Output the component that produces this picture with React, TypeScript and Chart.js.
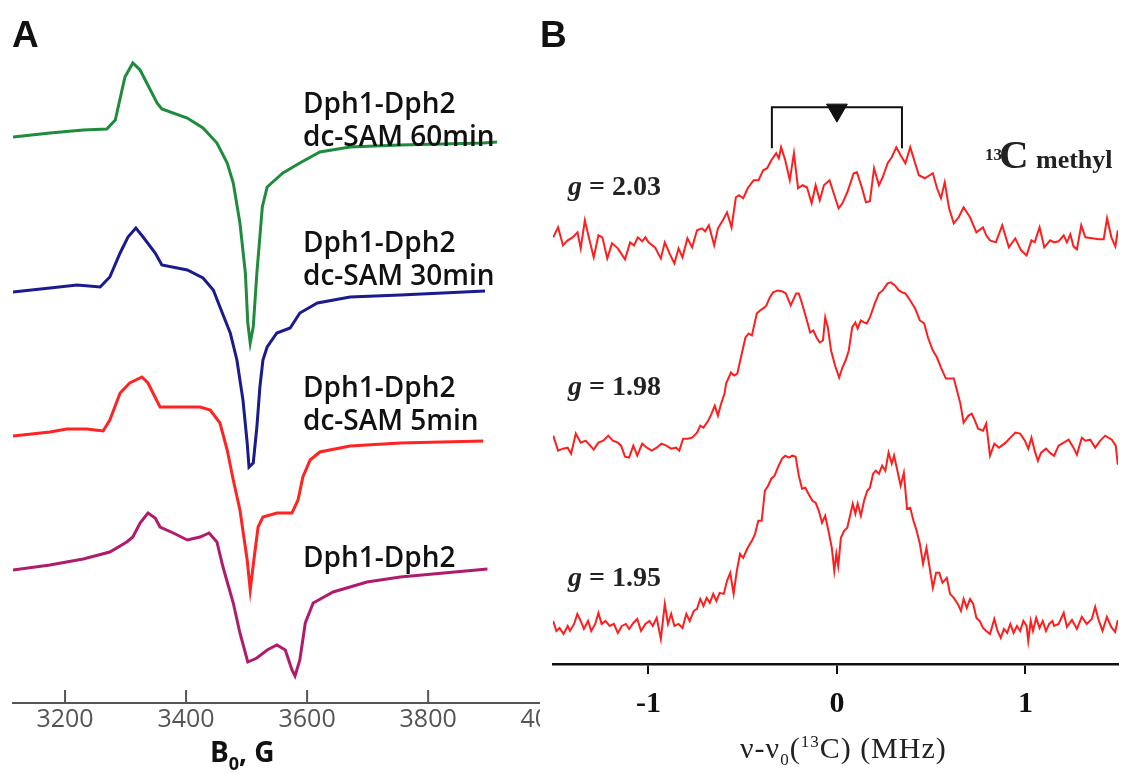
import React, { useEffect, useRef } from "react";
import { Chart, registerables } from "chart.js";

Chart.register(...registerables);

// ---------- Panel A : CW EPR spectra (field in G, signal offset per trace) ----------
const fieldTicks = [3200, 3400, 3600, 3800, 4000];

const sam60Field = [3114, 3175, 3230, 3269, 3283, 3299, 3312, 3324, 3352, 3360, 3402, 3428, 3451, 3468, 3478, 3489, 3498, 3502, 3506, 3511, 3517, 3526, 3534, 3560, 3588, 3621, 3671, 3754, 3891, 3914];
const sam60Signal = [566, 570, 573, 574, 583, 626, 640, 633, 600, 594, 585, 575, 560, 540, 520, 480, 430, 380, 360, 376, 430, 496, 516, 530, 540, 551, 556, 558, 560, 561];

const sam30Field = [3114, 3175, 3220, 3258, 3274, 3291, 3304, 3317, 3329, 3349, 3360, 3402, 3428, 3445, 3456, 3473, 3484, 3494, 3501, 3504, 3511, 3517, 3522, 3527, 3534, 3550, 3572, 3588, 3617, 3671, 3754, 3894];
const sam30Signal = [411, 415, 418, 416, 426, 450, 466, 475, 466, 450, 438, 433, 425, 413, 396, 370, 343, 303, 260, 236, 240, 276, 316, 343, 356, 370, 375, 390, 400, 406, 408, 412];

const sam5Field = [3114, 3175, 3203, 3236, 3263, 3274, 3291, 3307, 3327, 3337, 3357, 3379, 3423, 3440, 3456, 3468, 3478, 3489, 3501, 3506, 3512, 3519, 3527, 3550, 3575, 3585, 3593, 3605, 3621, 3671, 3754, 3891];
const sam5Signal = [267, 271, 274, 274, 272, 283, 310, 320, 326, 320, 296, 296, 296, 293, 280, 253, 223, 193, 143, 113, 143, 176, 186, 190, 190, 203, 226, 243, 251, 257, 260, 262];

const apoField = [3114, 3175, 3230, 3274, 3302, 3312, 3324, 3337, 3349, 3357, 3379, 3402, 3423, 3438, 3451, 3461, 3478, 3489, 3502, 3517, 3534, 3550, 3564, 3575, 3580, 3588, 3597, 3610, 3643, 3699, 3754, 3898];
const apoSignal = [133, 138, 144, 151, 161, 166, 180, 190, 185, 176, 170, 163, 166, 170, 161, 136, 100, 70, 41, 45, 53, 58, 53, 33, 27, 43, 80, 100, 111, 121, 126, 134];

// ---------- Panel B : ENDOR spectra (frequency offset in MHz) ----------
const freqTicks = [-1, 0, 1];

const g203Freq = [-1.505, -1.479, -1.453, -1.428, -1.402, -1.376, -1.359, -1.337, -1.316, -1.29, -1.265, -1.244, -1.218, -1.193, -1.162, -1.124, -1.097, -1.076, -1.056, -1.033, -1.016, -0.999, -0.965, -0.934, -0.913, -0.888, -0.862, -0.84, -0.819, -0.793, -0.768, -0.742, -0.716, -0.699, -0.679, -0.651, -0.631, -0.605, -0.583, -0.559, -0.536, -0.519, -0.497, -0.473, -0.442, -0.416, -0.391, -0.37, -0.348, -0.322, -0.308, -0.296, -0.274, -0.25, -0.228, -0.206, -0.182, -0.159, -0.134, -0.113, -0.091, -0.069, -0.039, -0.017, 0.009, 0.029, 0.055, 0.089, 0.106, 0.132, 0.154, 0.175, 0.197, 0.223, 0.243, 0.269, 0.291, 0.315, 0.338, 0.363, 0.389, 0.415, 0.435, 0.466, 0.509, 0.531, 0.552, 0.572, 0.595, 0.62, 0.646, 0.672, 0.706, 0.74, 0.775, 0.792, 0.812, 0.843, 0.877, 0.912, 0.946, 0.977, 1.006, 1.032, 1.049, 1.075, 1.1, 1.131, 1.152, 1.176, 1.203, 1.22, 1.238, 1.255, 1.273, 1.296, 1.318, 1.353, 1.388, 1.415, 1.433, 1.456, 1.477, 1.49];
const g203Amp = [426, 436, 418, 423, 426, 431, 415, 443, 426, 406, 428, 426, 405, 420, 415, 404, 421, 418, 426, 422, 426, 421, 416, 405, 421, 410, 400, 415, 406, 425, 416, 433, 435, 432, 438, 418, 435, 443, 451, 436, 466, 468, 465, 475, 483, 483, 493, 495, 503, 510, 505, 516, 503, 483, 510, 475, 478, 476, 460, 478, 463, 478, 483, 470, 455, 460, 471, 490, 491, 476, 461, 462, 495, 478, 486, 500, 506, 516, 508, 500, 516, 500, 488, 485, 490, 475, 465, 481, 455, 440, 446, 456, 446, 431, 436, 428, 423, 421, 438, 416, 425, 413, 408, 423, 421, 436, 416, 423, 421, 422, 428, 421, 429, 417, 414, 438, 426, 425, 424, 424, 445, 426, 417, 433];

const g198Freq = [-1.505, -1.479, -1.453, -1.428, -1.41, -1.385, -1.359, -1.333, -1.308, -1.29, -1.265, -1.239, -1.213, -1.188, -1.162, -1.145, -1.124, -1.102, -1.08, -1.059, -1.033, -1.008, -0.982, -0.956, -0.931, -0.905, -0.879, -0.853, -0.836, -0.816, -0.793, -0.768, -0.742, -0.725, -0.708, -0.682, -0.665, -0.648, -0.631, -0.614, -0.596, -0.588, -0.562, -0.545, -0.528, -0.507, -0.485, -0.468, -0.451, -0.425, -0.408, -0.391, -0.374, -0.356, -0.339, -0.314, -0.288, -0.271, -0.245, -0.233, -0.216, -0.202, -0.185, -0.159, -0.142, -0.125, -0.108, -0.091, -0.074, -0.062, -0.048, -0.031, -0.01, 0.012, 0.029, 0.046, 0.063, 0.081, 0.098, 0.11, 0.127, 0.144, 0.158, 0.175, 0.201, 0.223, 0.243, 0.269, 0.286, 0.308, 0.329, 0.346, 0.363, 0.389, 0.415, 0.44, 0.463, 0.483, 0.509, 0.531, 0.552, 0.578, 0.603, 0.62, 0.641, 0.655, 0.672, 0.698, 0.715, 0.732, 0.749, 0.775, 0.792, 0.812, 0.835, 0.86, 0.895, 0.92, 0.946, 0.972, 0.997, 1.015, 1.032, 1.049, 1.066, 1.083, 1.109, 1.135, 1.152, 1.176, 1.203, 1.229, 1.255, 1.273, 1.299, 1.318, 1.344, 1.37, 1.397, 1.423, 1.458, 1.479, 1.49];
const g198Amp = [228, 213, 215, 216, 210, 230, 221, 223, 218, 214, 221, 223, 228, 223, 221, 218, 207, 206, 218, 208, 220, 216, 213, 216, 220, 218, 215, 216, 213, 225, 225, 226, 231, 238, 236, 243, 250, 258, 248, 260, 270, 280, 291, 288, 290, 308, 326, 330, 328, 350, 353, 355, 358, 366, 371, 373, 372, 370, 358, 363, 370, 370, 360, 343, 331, 333, 326, 321, 323, 346, 336, 313, 298, 286, 296, 303, 313, 336, 341, 335, 343, 341, 340, 346, 360, 370, 373, 380, 381, 378, 373, 371, 370, 363, 355, 343, 340, 326, 313, 306, 296, 285, 285, 285, 270, 260, 241, 248, 250, 243, 235, 233, 240, 208, 220, 216, 221, 226, 231, 230, 223, 215, 226, 213, 203, 211, 215, 210, 208, 218, 221, 224, 216, 209, 226, 223, 224, 216, 223, 228, 224, 218, 199];

const g195Freq = [-1.505, -1.488, -1.471, -1.45, -1.428, -1.416, -1.394, -1.377, -1.359, -1.342, -1.32, -1.303, -1.282, -1.265, -1.248, -1.228, -1.205, -1.183, -1.162, -1.141, -1.119, -1.102, -1.08, -1.059, -1.039, -1.016, -0.994, -0.977, -0.956, -0.934, -0.913, -0.896, -0.879, -0.862, -0.84, -0.819, -0.799, -0.781, -0.759, -0.742, -0.725, -0.708, -0.691, -0.674, -0.656, -0.639, -0.622, -0.6, -0.583, -0.566, -0.548, -0.531, -0.514, -0.497, -0.476, -0.451, -0.434, -0.417, -0.399, -0.382, -0.365, -0.348, -0.331, -0.309, -0.291, -0.274, -0.254, -0.237, -0.219, -0.202, -0.185, -0.168, -0.151, -0.13, -0.113, -0.096, -0.079, -0.062, -0.045, -0.027, -0.014, -0.003, 0.007, 0.021, 0.038, 0.055, 0.072, 0.084, 0.098, 0.11, 0.127, 0.144, 0.161, 0.175, 0.192, 0.206, 0.223, 0.24, 0.257, 0.274, 0.291, 0.303, 0.321, 0.338, 0.355, 0.372, 0.389, 0.406, 0.423, 0.44, 0.457, 0.475, 0.492, 0.509, 0.526, 0.543, 0.56, 0.583, 0.6, 0.62, 0.641, 0.658, 0.672, 0.689, 0.706, 0.723, 0.74, 0.757, 0.775, 0.792, 0.812, 0.835, 0.852, 0.869, 0.886, 0.903, 0.92, 0.937, 0.955, 0.972, 0.989, 1.006, 1.015, 1.028, 1.04, 1.057, 1.075, 1.092, 1.109, 1.126, 1.143, 1.152, 1.176, 1.203, 1.22, 1.247, 1.273, 1.299, 1.325, 1.352, 1.37, 1.388, 1.409, 1.432, 1.455, 1.476, 1.49];
const g195Amp = [43, 33, 36, 30, 38, 33, 40, 50, 43, 35, 43, 33, 40, 51, 40, 43, 38, 40, 31, 38, 40, 35, 41, 45, 33, 40, 43, 38, 46, 25, 60, 40, 50, 38, 40, 36, 50, 43, 53, 55, 65, 58, 66, 61, 70, 63, 71, 70, 83, 91, 70, 93, 110, 106, 115, 123, 130, 143, 143, 173, 178, 185, 188, 198, 205, 208, 206, 208, 207, 188, 175, 176, 170, 163, 161, 153, 141, 148, 133, 116, 93, 110, 98, 126, 133, 136, 150, 160, 150, 160, 148, 163, 173, 176, 190, 193, 190, 198, 193, 211, 200, 208, 193, 178, 191, 155, 156, 143, 133, 120, 100, 116, 96, 76, 91, 91, 81, 86, 70, 66, 60, 53, 65, 56, 65, 60, 46, 43, 36, 33, 30, 45, 33, 26, 35, 31, 40, 31, 38, 33, 43, 38, 23, 43, 33, 46, 36, 43, 33, 40, 43, 38, 40, 51, 37, 44, 35, 47, 40, 45, 57, 44, 33, 47, 37, 32, 44];

// hyperfine bracket and centre marker
const bracketFreq = [-0.345, -0.345, 0.345, 0.345];
const bracketAmp = [515, 556, 556, 515];
const centerFreq = [0];
const centerAmp = [553];

function pair(xs: number[], ys: number[]) {
  const n = Math.min(xs.length, ys.length);
  const out: { x: number; y: number }[] = [];
  for (let i = 0; i < n; i++) out.push({ x: xs[i], y: ys[i] });
  return out;
}

const innerTicks = {
  id: "innerTicks",
  afterDraw(chart: any) {
    const xs = chart.scales.x;
    const ctx = chart.ctx;
    ctx.save();
    ctx.strokeStyle = "#555";
    ctx.lineWidth = 2;
    xs.ticks.forEach((t: any) => {
      const px = xs.getPixelForValue(t.value);
      ctx.beginPath();
      ctx.moveTo(px, xs.top);
      ctx.lineTo(px, xs.top - 13);
      ctx.stroke();
    });
    ctx.restore();
  },
};

const abs = (extra: React.CSSProperties): React.CSSProperties => ({
  position: "absolute",
  whiteSpace: "pre",
  margin: 0,
  ...extra,
});

export default function App() {
  const refA = useRef<HTMLCanvasElement>(null);
  const refB = useRef<HTMLCanvasElement>(null);

  useEffect(() => {
    const line = (xs: number[], ys: number[], color: string, w: number) => ({
      data: pair(xs, ys),
      borderColor: color,
      borderWidth: w,
      pointRadius: 0,
      tension: 0,
      fill: false,
    });

    const chartA = new Chart(refA.current as HTMLCanvasElement, {
      type: "line",
      data: {
        datasets: [
          line(sam60Field, sam60Signal, "#1f8c3d", 3),
          line(sam30Field, sam30Signal, "#1b1b8e", 3),
          line(sam5Field, sam5Signal, "#ff2424", 3),
          line(apoField, apoSignal, "#b01c6c", 3),
        ] as any,
      },
      options: {
        responsive: false,
        animation: false,
        layout: { padding: { left: 13, right: 20, top: 20, bottom: 37 } },
        plugins: { legend: { display: false }, tooltip: { enabled: false } },
        scales: {
          x: {
            type: "linear",
            min: 3114,
            max: 4084,
            afterBuildTicks: (s: any) => {
              s.ticks = fieldTicks.map((v) => ({ value: v }));
            },
            grid: { display: false, drawTicks: false },
            border: { display: true, color: "#555", width: 2 },
            ticks: {
              color: "#555",
              font: { family: "Open Sans", size: 25 },
              padding: 2,
              maxRotation: 0,
              autoSkip: false,
              includeBounds: false,
              callback: (v: any) => String(v),
            },
          },
          y: { display: false, min: 0, max: 683 },
        },
      } as any,
      plugins: [innerTicks],
    });

    const chartB = new Chart(refB.current as HTMLCanvasElement, {
      type: "line",
      data: {
        datasets: [
          line(g203Freq, g203Amp, "#ff1e1e", 2),
          line(g198Freq, g198Amp, "#ff1e1e", 2),
          line(g195Freq, g195Amp, "#ff1e1e", 2),
          line(bracketFreq, bracketAmp, "#111", 2),
          {
            data: pair(centerFreq, centerAmp),
            showLine: false,
            pointStyle: "triangle",
            rotation: 180,
            pointRadius: 12,
            pointBackgroundColor: "#111",
            pointBorderColor: "#111",
            pointBorderWidth: 1,
          },
        ] as any,
      },
      options: {
        responsive: false,
        animation: false,
        layout: { padding: { left: 8, right: 0, top: 20, bottom: 40 } },
        plugins: { legend: { display: false }, tooltip: { enabled: false } },
        scales: {
          x: {
            type: "linear",
            min: -1.506,
            max: 1.491,
            afterBuildTicks: (s: any) => {
              s.ticks = freqTicks.map((v) => ({ value: v }));
            },
            grid: {
              display: true,
              drawOnChartArea: false,
              drawTicks: true,
              tickLength: 10,
              color: "#111",
              lineWidth: 2,
            },
            border: { display: true, color: "#111", width: 2.5 },
            ticks: {
              color: "#111",
              font: { family: "Liberation Serif", size: 30, weight: "bold" },
              padding: 12,
              maxRotation: 0,
              autoSkip: false,
              includeBounds: false,
              callback: (v: any) => String(v),
            },
          },
          y: { display: false, min: 0, max: 643 },
        },
      } as any,
    });

    return () => {
      chartA.destroy();
      chartB.destroy();
    };
  }, []);

  const labelA: React.CSSProperties = {
    font: '600 28px "Open Sans"',
    lineHeight: "33px",
    color: "#111",
    left: 303,
  };
  const serifBold: React.CSSProperties = {
    fontFamily: '"Liberation Serif"',
    fontWeight: "bold",
    color: "#222",
    lineHeight: 1,
  };

  return (
    <div
      style={{
        position: "absolute",
        left: 0,
        top: 0,
        width: 1131,
        height: 774,
        background: "#fff",
        overflow: "hidden",
      }}
    >
      <div style={{ position: "absolute", left: 0, top: 0, width: 540, height: 774, overflow: "hidden" }}>
        <canvas ref={refA} width={620} height={774} style={{ position: "absolute", left: 0, top: 0 }} />
      </div>
      <canvas ref={refB} width={591} height={774} style={{ position: "absolute", left: 540, top: 0 }} />

      {/* panel letters */}
      <div style={abs({ left: 12, top: 16, font: 'bold 37px "Liberation Sans"', lineHeight: "37px", color: "#111" })}>A</div>
      <div style={abs({ left: 540, top: 16, font: 'bold 37px "Liberation Sans"', lineHeight: "37px", color: "#111" })}>B</div>

      {/* panel A labels */}
      <div style={abs({ ...labelA, top: 86 })}>{"Dph1-Dph2\ndc-SAM 60min"}</div>
      <div style={abs({ ...labelA, top: 225 })}>{"Dph1-Dph2\ndc-SAM 30min"}</div>
      <div style={abs({ ...labelA, top: 370 })}>{"Dph1-Dph2\ndc-SAM 5min"}</div>
      <div style={abs({ ...labelA, top: 540 })}>{"Dph1-Dph2"}</div>

      {/* panel A axis title */}
      <div style={abs({ left: 210, top: 737, font: 'bold 28px "Open Sans"', lineHeight: "28px", color: "#111" })}>
        B<span style={{ fontSize: 18, position: "relative", top: 8 }}>0</span>, G
      </div>

      {/* panel B labels */}
      <div style={abs({ ...serifBold, left: 568, top: 172, fontSize: 28 })}>
        <i>g</i> = 2.03
      </div>
      <div style={abs({ ...serifBold, left: 568, top: 372, fontSize: 28 })}>
        <i>g</i> = 1.98
      </div>
      <div style={abs({ ...serifBold, left: 568, top: 563, fontSize: 28 })}>
        <i>g</i> = 1.95
      </div>

      <div style={abs({ ...serifBold, left: 985, top: 146, fontSize: 17 })}>13</div>
      <div style={abs({ ...serifBold, left: 999, top: 134, fontSize: 41 })}>C</div>
      <div style={abs({ ...serifBold, left: 1036, top: 147, fontSize: 26 })}>methyl</div>

      {/* panel B axis title */}
      <div style={abs({ left: 740, top: 733, font: '30px "Liberation Serif"', lineHeight: "30px", letterSpacing: "1px", color: "#222" })}>
        ν-ν<span style={{ fontSize: 17, position: "relative", top: 7 }}>0</span>(
        <span style={{ fontSize: 17, position: "relative", top: -11 }}>13</span>C) (MHz)
      </div>
    </div>
  );
}
